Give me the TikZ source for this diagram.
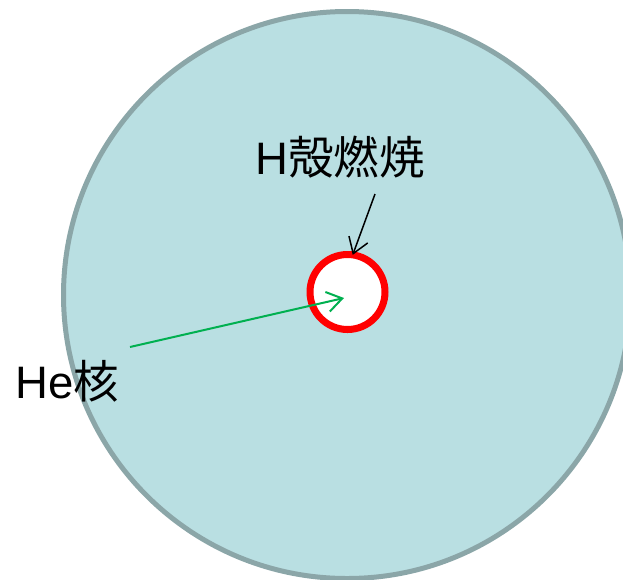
\documentclass[tikz,border=0pt]{standalone}
\usepackage{fontspec}
\setmainfont{Liberation Sans}
\newfontfamily\cjk{Noto Sans CJK JP}
\usepackage{xcolor}
\usetikzlibrary{arrows.meta,positioning,calc}
\definecolor{StarFill}{HTML}{B9DFE2}
\definecolor{StarEdge}{HTML}{8BA6A8}
\definecolor{ShellRed}{HTML}{FF0000}
\definecolor{CoreGreen}{HTML}{00B050}

\tikzset{
  label text/.style={font=\fontsize{45.5}{48}\selectfont, inner sep=0pt},
  open tip/.style={-{Straight Barb[length=15pt,width=20pt]}}
}

\begin{document}
\begin{tikzpicture}[x=1pt, y=-1pt]
      \useasboundingbox (0,0) rectangle (623,579);
      \clip (0,0) rectangle (623,579);
      % envelope of the star
      \node[circle, draw=StarEdge, fill=StarFill, line width=5pt,
            minimum size=567pt, inner sep=0pt] (star) at (347,295) {};
      % burning shell round the helium core
      \node[circle, draw=ShellRed, fill=white, line width=7pt,
            minimum size=75pt, inner sep=0pt, outer sep=0pt] (shell) at (347.5,292) {};
      \node[label text] (hshell) at (340,157) {H{\cjk 殻燃焼}};
      \node[label text] (hecore) at (67,381) {He{\cjk 核}};
      \coordinate (hstart) at (375,194);
      \coordinate (hestart) at (130,347);
      \coordinate (coretip) at (344,298);
      \draw[open tip, line width=1.5pt, black] (hstart) -- (shell.82);
      \draw[open tip, line width=2pt, CoreGreen] (hestart) -- (coretip);
    \end{tikzpicture}
\end{document}
